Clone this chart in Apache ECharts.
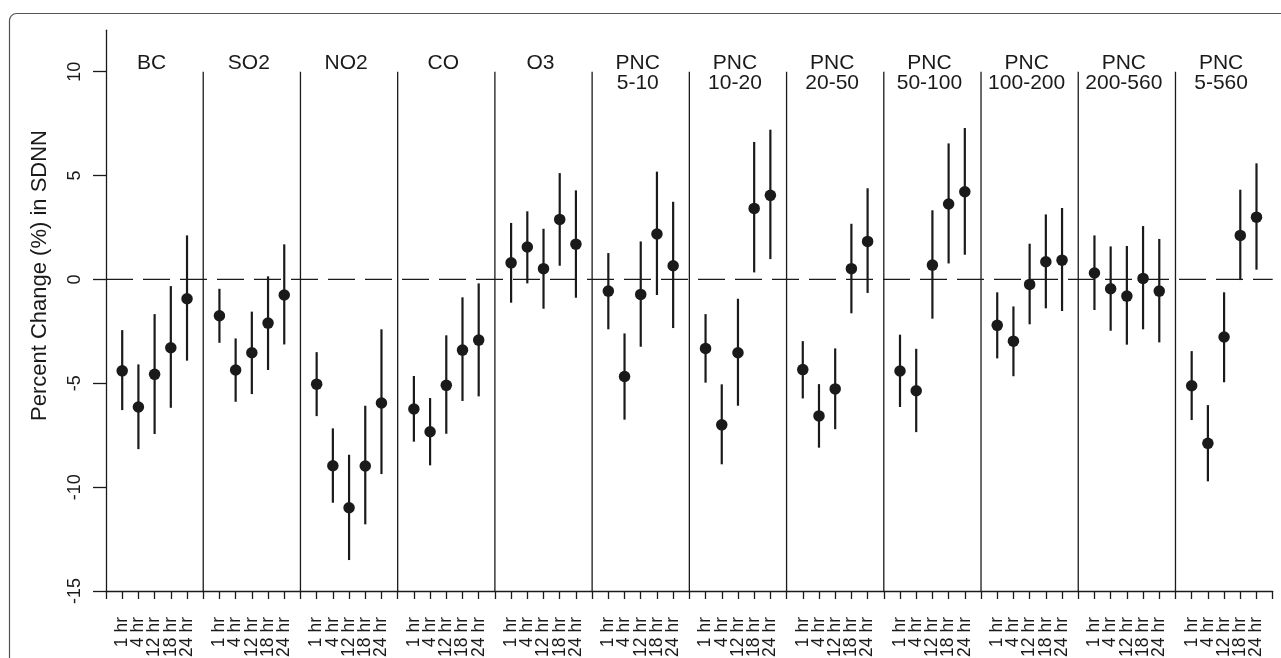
<!DOCTYPE html>
<html><head><meta charset="utf-8">
<script src="https://cdn.jsdelivr.net/npm/echarts@6/dist/echarts.min.js"></script>
<style>html,body{margin:0;padding:0;background:#fff}#c{width:1281px;height:658px}</style>
</head><body><div id="c"></div>
<script>
// ---- data ----
const panelLine1 = ['BC','SO2','NO2','CO','O3','PNC','PNC','PNC','PNC','PNC','PNC','PNC'];
const panelLine2 = ['','','','','','5-10','10-20','20-50','50-100','100-200','200-560','5-560'];
const hourLabels = ['1 hr','4 hr','12 hr','18 hr','24 hr'];
const yTicks = [-15,-10,-5,0,5,10];

const estimates = [
  [-4.40,-6.14,-4.57,-3.29,-0.93],
  [-1.75,-4.36,-3.53,-2.10,-0.75],
  [-5.04,-8.97,-10.99,-8.98,-5.95],
  [-6.24,-7.33,-5.10,-3.40,-2.92],
  [0.80,1.56,0.52,2.89,1.70],
  [-0.56,-4.67,-0.72,2.19,0.66],
  [-3.32,-7.00,-3.53,3.42,4.05],
  [-4.34,-6.57,-5.27,0.52,1.83],
  [-4.41,-5.36,0.69,3.63,4.22],
  [-2.21,-2.97,-0.24,0.85,0.93],
  [0.31,-0.45,-0.80,0.05,-0.56],
  [-5.12,-7.89,-2.77,2.12,3.00]
];
const lowerCI = [
  [-6.29,-8.17,-7.44,-6.18,-3.91],
  [-3.05,-5.89,-5.52,-4.36,-3.13],
  [-6.58,-10.75,-13.51,-11.79,-9.37],
  [-7.81,-8.95,-7.43,-5.85,-5.63],
  [-1.12,-0.19,-1.41,0.66,-0.88],
  [-2.40,-6.75,-3.24,-0.75,-2.34],
  [-4.97,-8.90,-6.08,0.34,0.98],
  [-5.73,-8.10,-7.21,-1.63,-0.65],
  [-6.14,-7.35,-1.89,0.77,1.19],
  [-3.80,-4.66,-2.16,-1.39,-1.52],
  [-1.47,-2.47,-3.14,-2.40,-3.03],
  [-6.77,-9.72,-4.95,-0.03,0.47]
];
const upperCI = [
  [-2.44,-4.09,-1.67,-0.32,2.12],
  [-0.45,-2.84,-1.55,0.15,1.69],
  [-3.50,-7.17,-8.44,-6.08,-2.40],
  [-4.65,-5.71,-2.69,-0.86,-0.19],
  [2.72,3.28,2.44,5.12,4.29],
  [1.27,-2.60,1.83,5.19,3.74],
  [-1.67,-5.05,-0.93,6.62,7.21],
  [-2.97,-5.04,-3.32,2.68,4.39],
  [-2.66,-3.34,3.33,6.55,7.29],
  [-0.62,-1.30,1.72,3.13,3.44],
  [2.12,1.59,1.61,2.57,1.95],
  [-3.45,-6.05,-0.62,4.32,5.59]
];

// ---- build ----
const FONT = '"Liberation Sans", Arial, Helvetica, sans-serif';
const INK = '#1a1a1a';
const SLOTS = hourLabels.length + 1;
const nPanels = panelLine1.length;
const xMax = nPanels * SLOTS;

const pointData = [], ciData = [];
estimates.forEach((row, p) => row.forEach((v, h) => {
  const x = p * SLOTS + h + 1;
  pointData.push([x, v]);
  ciData.push([x, lowerCI[p][h], upperCI[p][h]]);
}));
const sepData = [];
for (let p = 1; p < nPanels; p++) sepData.push([p * SLOTS]);
const titleData = panelLine1.map((t, p) => [p * SLOTS + SLOTS / 2]);

const chart = echarts.init(document.getElementById('c'), null, {renderer: 'canvas'});
chart.setOption({
  animation: false,
  backgroundColor: '#fff',
  textStyle: {fontFamily: FONT},
  grid: {left: 106, right: 8.3, top: 30.2, bottom: 67, containLabel: false, outerBoundsMode: 'none'},
  xAxis: {
    type: 'value', min: 0, max: xMax, interval: 1,
    splitLine: {show: false},
    axisLine: {show: true, onZero: false, lineStyle: {color: INK, width: 1.3}},
    axisTick: {show: true, length: 8, lineStyle: {color: INK, width: 1.3}},
    axisLabel: {
      show: true, rotate: 90, margin: 26, fontSize: 17.5, color: INK, fontFamily: FONT,
      formatter: v => { const k = Math.round(v) % SLOTS; return k === 0 ? '' : hourLabels[k - 1]; }
    }
  },
  yAxis: {
    type: 'value', min: -15, max: 12, interval: 5,
    splitLine: {show: false},
    axisLine: {show: true, onZero: false, lineStyle: {color: INK, width: 1.3}},
    axisTick: {show: true, length: 13, customValues: yTicks, lineStyle: {color: INK, width: 1.3}},
    axisLabel: {show: true, rotate: 90, margin: 22, fontSize: 18, color: INK, fontFamily: FONT, customValues: yTicks}
  },
  graphic: [
    {type: 'rect', z: -10, shape: {x: 9.5, y: 13.5, width: 1300, height: 700, r: 7},
     style: {fill: null, stroke: '#555', lineWidth: 1.2}},
    {type: 'text', x: 40, y: 275.5, rotation: Math.PI / 2,
     style: {text: 'Percent Change (%) in SDNN', font: '22px ' + FONT, fill: INK, textAlign: 'center', textVerticalAlign: 'middle'}}
  ],
  series: [
    {
      type: 'line', data: [[0, 0], [xMax, 0]], symbol: 'none', silent: true,
      lineStyle: {color: INK, width: 1.3, type: [27, 10]}, z: 1
    },
    {
      type: 'custom', data: sepData, encode: {x: 0}, silent: true, z: 1,
      renderItem: (params, api) => {
        const x = api.value(0);
        const a = api.coord([x, -15]), b = api.coord([x, 10]);
        return {type: 'line', shape: {x1: a[0], y1: a[1], x2: b[0], y2: b[1]}, style: {stroke: INK, lineWidth: 1.3}};
      }
    },
    {
      type: 'custom', data: titleData, encode: {x: 0}, silent: true, z: 3,
      renderItem: (params, api) => {
        const x = api.value(0);
        const p1 = api.coord([x, 10.42]);
        const p2 = api.coord([x, 9.46]);
        const i = params.dataIndex;
        return {type: 'group', children: [
          {type: 'text', x: p1[0] - 3, y: p1[1], style: {text: panelLine1[i], font: '21px ' + FONT, fill: INK, textAlign: 'center', textVerticalAlign: 'middle'}},
          {type: 'text', x: p2[0] - 3, y: p2[1], style: {text: panelLine2[i], font: '21px ' + FONT, fill: INK, textAlign: 'center', textVerticalAlign: 'middle'}}
        ]};
      }
    },
    {
      type: 'custom', data: ciData, encode: {x: 0, y: [1, 2]}, silent: true, z: 4,
      renderItem: (params, api) => {
        const x = api.value(0);
        const a = api.coord([x, api.value(1)]), b = api.coord([x, api.value(2)]);
        return {type: 'line', shape: {x1: a[0], y1: a[1], x2: b[0], y2: b[1]}, style: {stroke: INK, lineWidth: 2.2}};
      }
    },
    {
      type: 'scatter', data: pointData, symbol: 'circle', symbolSize: 11.5, z: 5,
      itemStyle: {color: INK, opacity: 1}, silent: true
    }
  ]
});
</script></body></html>
